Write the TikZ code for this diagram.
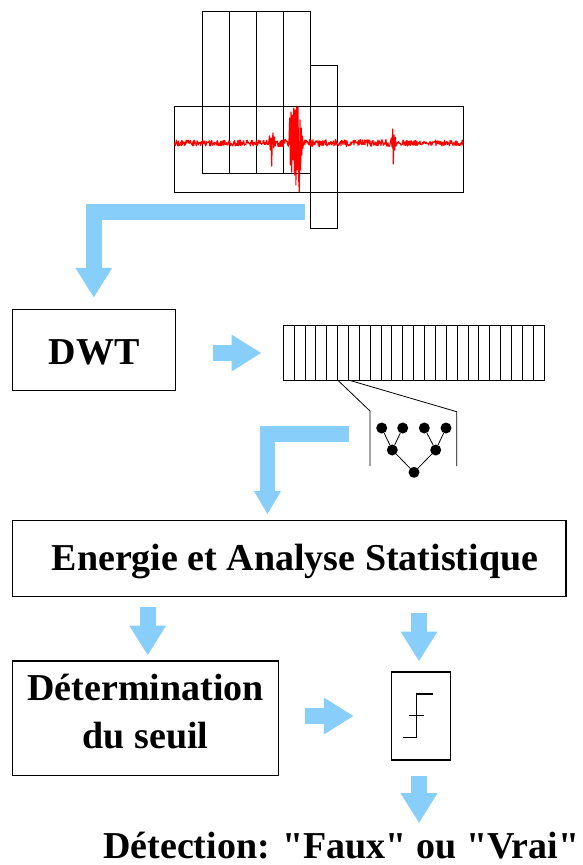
\documentclass[tikz,border=0pt]{standalone}
\usepackage{fontspec}
\setmainfont{Liberation Serif}[Ligatures=TeXOff]
\usetikzlibrary{arrows.meta}
\definecolor{flow}{RGB}{135,206,250}
\begin{document}
\begin{tikzpicture}[x=1pt,y=-1pt,
  thinline/.style={draw=black,line width=0.9pt},
  blockbox/.style={draw=black,line width=1.2pt,inner sep=0pt,
    font=\fontsize{38}{48.3}\selectfont\bfseries},
  flowarrow/.style={draw=flow,line width=16pt,line join=miter,
    -{Triangle[length=29.5pt,width=37pt,line width=0pt]}},
  smallflow/.style={draw=flow,line width=15.5pt,line join=miter,
    -{Triangle[length=23pt,width=27pt,line width=0pt]}},
  dot/.style={circle,fill=black,inner sep=0pt,minimum size=11pt},
  sig/.style={draw=red,line width=1.1pt,line join=round}
]
\useasboundingbox (0,0) rectangle (583,865);
\pgfmathsetseed{12}

% ---------- top: windows over the signal ----------
\draw[thinline] (202,11) rectangle (310.7,173.7);
\foreach \xx in {229.3,256.7,283.7} \draw[thinline] (\xx,11) -- (\xx,173.7);
\draw[thinline] (310.7,65.3) rectangle (337.7,228);
\draw[thinline] (174.3,106.7) rectangle (463.3,192.3);

% signal
\draw[sig] (174.3,143)
  \foreach \x in {174.8,175.3,...,268.3} { -- (\x,{143+3*rand}) }
  -- (269,140) -- (269.5,136) -- (270.2,150) -- (271,138) -- (271.7,166)
  -- (272.3,140) -- (273,133) -- (273.8,148) -- (274.5,137) -- (275.2,146)
  \foreach \x in {275.7,276.2,...,288.2} { -- (\x,{143+4*rand}) }
  -- (289,140) -- (289.7,118) -- (290.3,165) -- (291,112) -- (291.7,172)
  -- (292.4,115) -- (293.1,160) -- (293.8,108) -- (294.5,175) -- (295.2,110)
  -- (295.9,185) -- (296.6,107) -- (297.3,170) -- (298,107) -- (298.7,180)
  -- (299.3,192) -- (300,120) -- (300.6,170) -- (301.2,128) -- (301.8,155)
  -- (302.4,136) -- (303,148)
  \foreach \x in {303.5,304,...,390.5} { -- (\x,{143+3.5*rand}) }
  -- (391.3,138) -- (392,147) -- (392.7,129) -- (393.3,164) -- (394,135)
  -- (394.7,150) -- (395.4,137) -- (396,146)
  \foreach \x in {396.5,397,...,463} { -- (\x,{143+3*rand}) };

% ---------- arrow to DWT ----------
\coordinate (a1s) at (305.3,211.7);
\coordinate (a1c) at (93.8,211.7);
\coordinate (a1e) at (93.8,297.3);
\draw[flowarrow] (a1s) -- (a1c) -- (a1e);

% ---------- DWT ----------
\node[blockbox,minimum width=162.6pt,minimum height=81.4pt,
  text height=28pt,text depth=0pt] (dwt) at (94,350) {DWT};

\coordinate (a2s) at (213.3,353);
\coordinate (a2e) at (261,353);
\draw[flowarrow] (a2s) -- (a2e);

% coefficient bar
\draw[thinline] (283.3,325.3) rectangle (544,380);
\foreach \i in {1,...,23} \draw[thinline] ({283.3+10.862*\i},325.3) -- ({283.3+10.862*\i},380);
\coordinate (z1) at ({283.3+10.862*5},380);
\coordinate (z2) at ({283.3+10.862*6},380);
\draw[line width=0.8pt] (z1) -- (370,411) -- (370,466);
\draw[line width=0.8pt] (z2) -- (456.7,411.7) -- (456.7,466);

% tree
\node[dot] (l1) at (381.7,428) {};
\node[dot] (l2) at (402.7,428) {};
\node[dot] (l3) at (424.3,428) {};
\node[dot] (l4) at (446,428) {};
\node[dot] (m1) at (392.3,450) {};
\node[dot] (m2) at (435.7,450) {};
\node[dot] (rt) at (414,472.3) {};
\draw[line width=0.8pt] (l1) -- (m1) -- (l2);
\draw[line width=0.8pt] (l3) -- (m2) -- (l4);
\draw[line width=0.8pt] (m1) -- (rt) -- (m2);

% ---------- arrow to Energie ----------
\coordinate (a3s) at (348.5,434);
\coordinate (a3c) at (267.5,434);
\coordinate (a3e) at (267.5,514);
\draw[smallflow] (a3s) -- (a3c) -- (a3e);

\node[blockbox,minimum width=553.7pt,minimum height=76pt,
  text height=30pt,text depth=7.4pt] (energie) at (289.15,558.7)
  {\hspace*{11.6pt}Energie et Analyse Statistique};

% ---------- lower part ----------
\coordinate (a4s) at (147.7,607.3);
\coordinate (a4e) at (147.7,655);
\draw[flowarrow] (a4s) -- (a4e);

\coordinate (a5s) at (419,613.3);
\coordinate (a5e) at (419,661);
\draw[flowarrow] (a5s) -- (a5e);

\node[blockbox,minimum width=266.4pt,minimum height=114.7pt,align=center,
  text depth=14.6pt] (seuil) at (145.5,718.35) {D\'etermination\\du seuil};

\coordinate (a6s) at (305,716);
\coordinate (a6e) at (353.3,716);
\draw[flowarrow] (a6s) -- (a6e);

\node[draw=black,line width=1.2pt,inner sep=0pt,minimum width=58.6pt,
  minimum height=88pt] (thr) at (421,716) {};
\draw[line width=1.1pt] (403.3,737.3) -- (416.7,737.3) -- (416.7,694) -- (433.3,694);
\draw[line width=1.1pt] (409,715.7) -- (424.3,715.7);

\coordinate (a7s) at (419,775.7);
\coordinate (a7e) at (419,822.7);
\draw[flowarrow] (a7s) -- (a7e);

\node[anchor=base west,inner sep=0pt,font=\fontsize{38}{48}\selectfont\bfseries]
  (detect) at (103,858) {D\'etection: "Faux" ou "Vrai"};
\end{tikzpicture}
\end{document}
